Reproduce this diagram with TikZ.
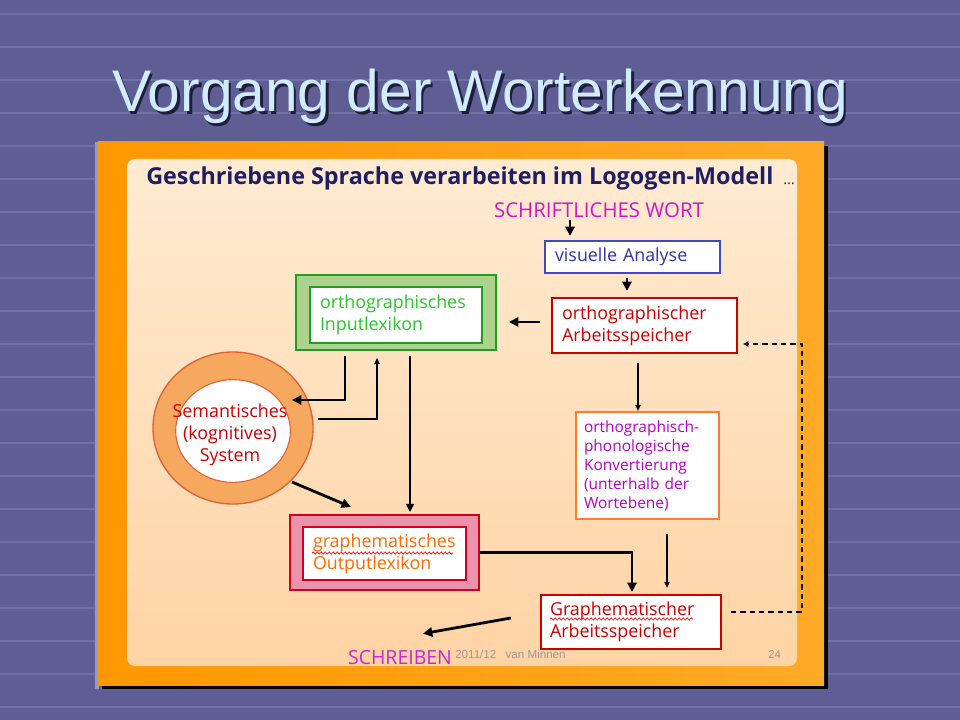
\documentclass[tikz,border=0pt]{standalone}
\usepackage{fontspec}
\setmainfont{Liberation Sans}
\newfontfamily\comic{Open Sans}
\usetikzlibrary{arrows.meta,shapes.geometric,decorations.pathmorphing,calc}

\definecolor{bgc}{RGB}{94,94,148}
\definecolor{gridc}{RGB}{112,112,166}
\definecolor{titlec}{RGB}{210,236,255}
\definecolor{shadowc}{RGB}{30,30,60}
\definecolor{orangeA}{RGB}{255,152,0}
\definecolor{orangeB}{RGB}{255,170,40}
\definecolor{peachA}{RGB}{255,235,210}
\definecolor{peachB}{RGB}{255,212,165}
\definecolor{navy}{RGB}{30,30,100}
\definecolor{magA}{RGB}{214,20,196}
\definecolor{magB}{RGB}{200,40,205}
\definecolor{blueA}{RGB}{70,70,200}
\definecolor{blueB}{RGB}{50,50,170}
\definecolor{redA}{RGB}{205,0,0}
\definecolor{redB}{RGB}{210,0,30}
\definecolor{greenA}{RGB}{30,160,30}
\definecolor{greenB}{RGB}{172,210,142}
\definecolor{greenC}{RGB}{40,200,40}
\definecolor{semB}{RGB}{225,95,55}
\definecolor{semF}{RGB}{246,168,95}
\definecolor{pinkA}{RGB}{236,146,172}
\definecolor{orangeT}{RGB}{255,105,0}
\definecolor{orangeE}{RGB}{255,125,40}
\definecolor{purpleA}{RGB}{185,0,200}
\definecolor{footc}{RGB}{160,150,150}

\tikzset{
  txt/.style={font=\comic\fontsize{13.4}{16.5}\selectfont},
  boxnode/.style={txt, draw, line width=1.7pt, fill=white, align=left, inner ysep=0pt},
  frame/.style={line width=1.6pt, inner sep=0pt},
  harrow/.style={line width=2.1pt, -{Triangle[length=7pt,width=7pt]}},
  marrow/.style={line width=1.6pt, -{Triangle[length=6pt,width=6pt]}},
  tarrow/.style={line width=0.9pt, -{Triangle[length=4.5pt,width=4pt]}},
  darrow/.style={line width=1pt, dash pattern=on 4pt off 3pt, -{Triangle[length=4pt,width=4pt]}},
  wavyline/.style={draw=red, line width=0.5pt, decorate, decoration={snake, amplitude=0.8pt, segment length=3pt}},
}

\begin{document}
\begin{tikzpicture}[x=0.75pt,y=-0.75pt]
\useasboundingbox (0,0) rectangle (960,720);
\fill[bgc] (0,0) rectangle (960,720);
\foreach \yy in {14,47,...,720} \draw[gridc, line width=0.8pt] (0,\yy) -- (960,\yy);

% title with drop shadow
\node (title) [anchor=base, text=titlec, font=\fontsize{44}{50}\selectfont,
  preaction={}] at (480,112) {\rlap{\kern1.9pt\raisebox{-1.9pt}{\textcolor{shadowc}{Vorgang der Worterkennung}}}Vorgang der Worterkennung};

% panel
\fill[black] (102,146) rectangle (828,689);
\fill[gridc!70!white] (95,142) rectangle (99,689);
\shade[left color=orangeA, right color=orangeB] (98,142) rectangle (824,685);
\shade[top color=peachA, bottom color=peachB, rounded corners=6pt] (127,159) rectangle (797,666);

% heading
\node (head) [anchor=base west, inner sep=0pt, text=navy, font=\comic\bfseries\fontsize{17.5}{20}\selectfont] at (146,185) {Geschriebene Sprache verarbeiten im Logogen-Modell {\mdseries\fontsize{11}{12}\selectfont\ …}};

% footer
\node (foot) [anchor=base west, inner sep=0pt, text=footc, font=\fontsize{8.7}{10}\selectfont] at (455,658) {2011/12\hspace{7pt}van Minnen};
\node (pnum) [anchor=base west, inner sep=0pt, text=footc, font=\fontsize{8.5}{10}\selectfont] at (768,658) {24};

% top input
\node (sw) [anchor=base, inner sep=0pt, text=magA, font=\comic\fontsize{15.3}{17}\selectfont] at (599,218) {SCHRIFTLICHES WORT};

\node (va) [boxnode, draw=blueA, text=blueB, text width=116.25pt, inner xsep=7.5pt, minimum height=24pt] at (632.5,257) {visuelle Analyse};
\node (oa) [boxnode, draw=redA, text=redA, text width=123.75pt, inner xsep=7.5pt, minimum height=41.25pt] at (644.5,325.5) {orthographischer\\Arbeitsspeicher};

\node (ilo) [frame, draw=greenA, fill=greenB, minimum width=150pt, minimum height=56.25pt] at (396,312.5) {};
\node (il) [boxnode, draw=greenA, text=greenC, text width=114pt, inner xsep=7.5pt, minimum height=42pt] at (396,315) {orthographisches\\Inputlexikon};

\node (semo) [ellipse, draw=semB, fill=semF, line width=1pt, minimum width=120pt, minimum height=114pt, inner sep=0pt] at (233,428) {};
\node (semi) [ellipse, draw=semB, fill=white, line width=0.8pt, minimum width=86pt, minimum height=77pt, inner sep=0pt] at (233,431) {};
\node (sem) [txt, text=redA, align=center, inner sep=0pt] at (230,435) {Semantisches\\(kognitives)\\System};

\node (olo) [frame, draw=redB, fill=pinkA, minimum width=141.75pt, minimum height=56.25pt] at (384.5,552.5) {};
\node (ol) [boxnode, draw=redB, text=orangeT, text width=107.25pt, inner xsep=7.5pt, minimum height=39.75pt] at (384.5,553.5) {graphematisches\\Outputlexikon};
\draw[wavyline] (312,553) -- (453,553);

\node (opk) [boxnode, draw=orangeE, text=purpleA, font=\comic\fontsize{11.6}{14.25}\selectfont, text width=95.25pt, inner xsep=6pt, minimum width=107.25pt, minimum height=80.25pt] at (647.5,465.5) {orthographisch-\\phonologische\\Konvertierung\\(unterhalb der\\Wortebene)};

\node (ga) [boxnode, draw=redA, text=redA, text width=121.5pt, inner xsep=6.75pt, minimum height=40.5pt] at (631,622) {Graphematischer\\Arbeitsspeicher};
\draw[wavyline] (550,619) -- (693,619);

\node (sch) [anchor=base, inner sep=0pt, text=magB, font=\comic\fontsize{14.6}{17}\selectfont] at (400,664) {SCHREIBEN};

% helper coordinates
\coordinate (xA) at (570,0);
\coordinate (xB) at (627,0);
\coordinate (yC) at (0,322);
\coordinate (x345) at (345,0);
\coordinate (y400) at (0,400);
\coordinate (x377) at (377,0);
\coordinate (x410) at (410,0);
\coordinate (x632) at (632,0);
\coordinate (x638) at (638,0);
\coordinate (x667) at (667,0);
\coordinate (x802) at (802,0);
\coordinate (y612) at (0,612);
\coordinate (y344) at (0,344);

% connectors
\draw[harrow, shorten <=1.5pt, shorten >=3pt] (sw.south -| xA) -- (va.north -| xA);
\draw[harrow, shorten <=3pt, shorten >=4.5pt] (va.south -| xB) -- (oa.north -| xB);
\draw[harrow, shorten <=8.25pt, shorten >=9pt] (oa.west |- yC) -- (ilo.east |- yC);
\draw[harrow, shorten <=3.75pt] (ilo.south -| x345) -- (x345 |- y400) -- ($(semo.center)+(59,-28)$);
\draw[tarrow, shorten >=5.25pt] ($(semo.center)+(85,-9)$) -| (ilo.south -| x377);
\draw[marrow, shorten <=3.75pt, shorten >=1.5pt] (ilo.south -| x410) -- (olo.north -| x410);
\draw[harrow] ($(semo.center)+(59,54)$) -- ($(olo.north west)+(62,-7)$);
\draw[harrow, shorten >=1.5pt] (olo.east) -| (ga.north -| x632);
\draw[tarrow, shorten <=6.75pt] (oa.south -| x638) -- (opk.north -| x638);
\draw[tarrow, shorten <=10.5pt, shorten >=4.5pt] (opk.south -| x667) -- (ga.north -| x667);
\draw[darrow, shorten <=6.75pt, shorten >=3.75pt] (ga.east |- y612) -- (x802 |- y612) -- (x802 |- y344) -- (oa.east |- y344);
\draw[harrow] ($(ga.west)+(-29,-4)$) -- ($(sch.north)+(23,-16)$);
\end{tikzpicture}
\end{document}
